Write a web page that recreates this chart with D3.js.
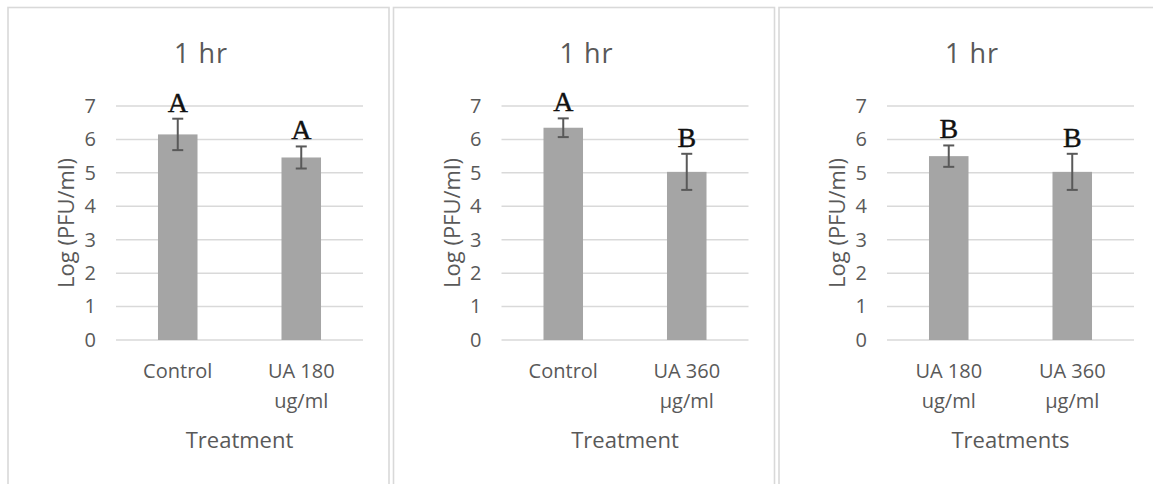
<!DOCTYPE html>
<html>
<head>
<meta charset="utf-8">
<script src="https://cdn.jsdelivr.net/npm/d3@7"></script>
<style>
  body { margin: 0; background: #fff; }
  text { font-family: "Open Sans", sans-serif; fill: #595959; }
</style>
</head>
<body>
<div id="chart"></div>
<script>
// chart values, one entry per panel
const panelTitles = ["1 hr", "1 hr", "1 hr"];
const categories = [
    [["Control"], ["UA 180", "ug/ml"]],
    [["Control"], ["UA 360", "\u00b5g/ml"]],
    [["UA 180", "ug/ml"], ["UA 360", "\u00b5g/ml"]]
];
const means = [
    [6.15, 5.46],
    [6.35, 5.03],
    [5.50, 5.03]
];
const errors = [
    [0.47, 0.33],
    [0.28, 0.54],
    [0.32, 0.54]
];
const letters = [
    ["A", "A"],
    ["A", "B"],
    ["B", "B"]
];
const xTitles = ["Treatment", "Treatment", "Treatments"];
const yTitle = "Log (PFU/ml)";
const yTicks = [0, 1, 2, 3, 4, 5, 6, 7];

var width = 1153;
var height = 484;

// left edge of every panel box
var panelLeft = [8, 393.5, 779];
var panelWidth = 381;

const svg = d3.select("#chart")
    .append("svg")
    .attr("width", width)
    .attr("height", height);

// panel borders
panelLeft.forEach((L) => {
    svg.append("rect")
        .attr("x", L)
        .attr("y", 7.5)
        .attr("width", panelWidth)
        .attr("height", height + 20)
        .attr("fill", "none")
        .attr("stroke", "#d9d9d9")
        .attr("stroke-width", 1.6);
});

let drawPanel = (p) => {
    var L = panelLeft[p];
    var g = svg.append("g").attr("transform", "translate(" + L + ",0)");

    var x = d3.scaleBand()
        .domain([0, 1])
        .range([108, 355])
        .paddingInner(0.68)
        .paddingOuter(0.34);

    var y = d3.scaleLinear()
        .domain([0, 7])
        .range([340, 106]);

    // gridlines
    g.selectAll(".grid")
        .data(yTicks)
        .enter()
        .append("line")
        .attr("x1", 108)
        .attr("x2", 355)
        .attr("y1", (d) => y(d))
        .attr("y2", (d) => y(d))
        .attr("stroke", "#d9d9d9")
        .attr("stroke-width", 1.5);

    // y axis labels
    var yAxis = d3.axisLeft(y)
        .tickValues(yTicks)
        .tickFormat(d3.format("d"))
        .tickSize(0)
        .tickPadding(0);
    var ya = g.append("g")
        .attr("transform", "translate(88,0)")
        .call(yAxis);
    ya.select(".domain").remove();
    ya.selectAll("text")
        .style("font-family", "'Open Sans', sans-serif")
        .style("font-size", "20px")
        .attr("fill", "#595959");

    // bars
    g.selectAll(".bar")
        .data(means[p])
        .enter()
        .append("rect")
        .attr("x", (d, i) => x(i))
        .attr("y", (d) => y(d))
        .attr("width", x.bandwidth())
        .attr("height", (d) => y(0) - y(d))
        .attr("fill", "#a5a5a5");

    // error bars
    var errs = means[p].map((m, i) => ({ i: i, lo: m - errors[p][i], hi: m + errors[p][i] }));
    var eb = g.selectAll(".err")
        .data(errs)
        .enter()
        .append("g")
        .attr("stroke", "#595959")
        .attr("stroke-width", 2);
    eb.append("line")
        .attr("x1", (d) => x(d.i) + x.bandwidth() / 2)
        .attr("x2", (d) => x(d.i) + x.bandwidth() / 2)
        .attr("y1", (d) => y(d.lo))
        .attr("y2", (d) => y(d.hi));
    eb.append("line")
        .attr("x1", (d) => x(d.i) + x.bandwidth() / 2 - 5.5)
        .attr("x2", (d) => x(d.i) + x.bandwidth() / 2 + 5.5)
        .attr("y1", (d) => y(d.hi))
        .attr("y2", (d) => y(d.hi));
    eb.append("line")
        .attr("x1", (d) => x(d.i) + x.bandwidth() / 2 - 5.5)
        .attr("x2", (d) => x(d.i) + x.bandwidth() / 2 + 5.5)
        .attr("y1", (d) => y(d.lo))
        .attr("y2", (d) => y(d.lo));

    // significance letters
    g.selectAll(".letter")
        .data(errs)
        .enter()
        .append("text")
        .attr("x", (d) => x(d.i) + x.bandwidth() / 2)
        .attr("y", (d) => y(d.hi) - 7)
        .attr("text-anchor", "middle")
        .style("font-family", "'Liberation Serif', 'Times New Roman', serif")
        .style("font-size", "28px")
        .style("fill", "#111")
        .style("stroke", "#111")
        .style("stroke-width", 0.4)
        .text((d) => letters[p][d.i]);

    // category labels
    var cat = g.selectAll(".cat")
        .data(categories[p])
        .enter()
        .append("text")
        .attr("text-anchor", "middle")
        .attr("font-size", "20px");
    cat.selectAll("tspan")
        .data((d, i) => d.map((line) => ({ line: line, i: i })))
        .enter()
        .append("tspan")
        .attr("x", (d) => x(d.i) + x.bandwidth() / 2)
        .attr("y", (d, j) => 378 + j * 30)
        .text((d) => d.line);

    // axis titles
    g.append("text")
        .attr("x", (108 + 355) / 2)
        .attr("y", 448)
        .attr("text-anchor", "middle")
        .attr("font-size", "22px")
        .text(xTitles[p]);

    g.append("text")
        .attr("transform", "translate(66," + 223 + ") rotate(-90)")
        .attr("text-anchor", "middle")
        .attr("font-size", "22px")
        .text(yTitle);

    // chart title
    g.append("text")
        .attr("x", 193)
        .attr("y", 63)
        .attr("text-anchor", "middle")
        .attr("font-size", "27px")
        .attr("letter-spacing", "1px")
        .text(panelTitles[p]);
}

for (let p = 0; p < 3; p++) {
    drawPanel(p);
}
</script>
</body>
</html>
